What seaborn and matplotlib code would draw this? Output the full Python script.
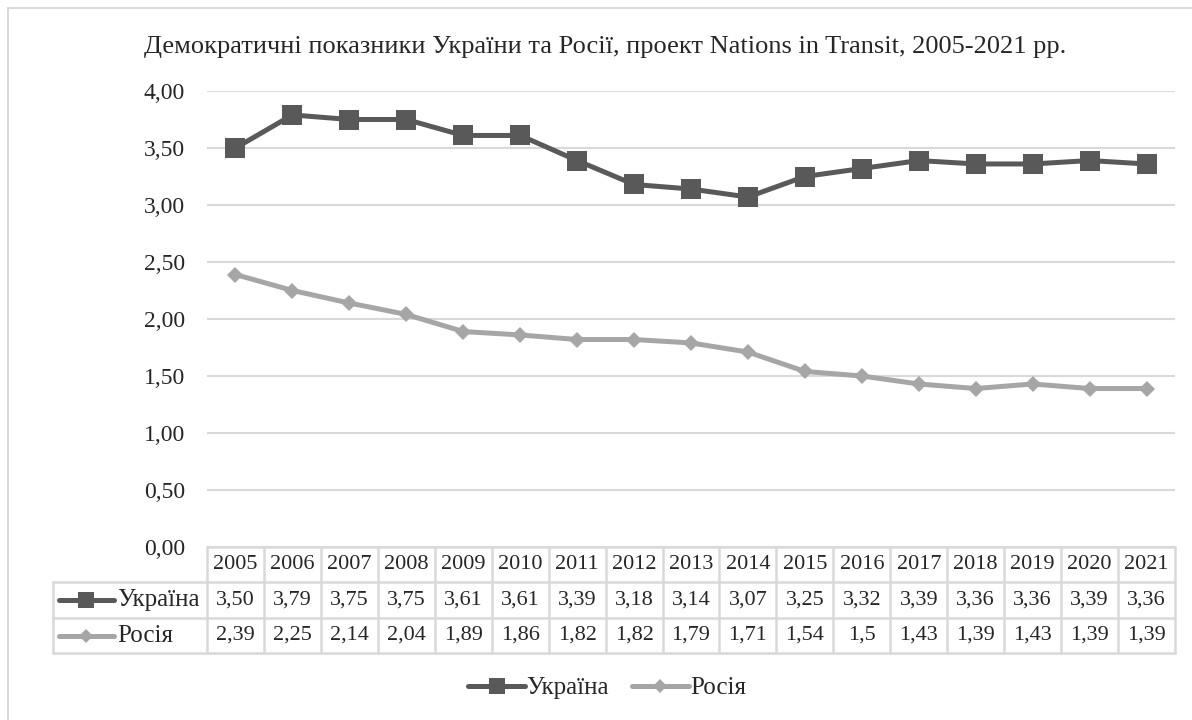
import matplotlib
matplotlib.use("Agg")
import matplotlib.pyplot as plt
import seaborn as sns
import pandas as pd
from matplotlib.lines import Line2D
from matplotlib.patches import Rectangle

years = [2005, 2006, 2007, 2008, 2009, 2010, 2011, 2012, 2013, 2014,
         2015, 2016, 2017, 2018, 2019, 2020, 2021]
ukraine = [3.50, 3.79, 3.75, 3.75, 3.61, 3.61, 3.39, 3.18, 3.14, 3.07,
           3.25, 3.32, 3.39, 3.36, 3.36, 3.39, 3.36]
russia = [2.39, 2.25, 2.14, 2.04, 1.89, 1.86, 1.82, 1.82, 1.79, 1.71,
          1.54, 1.50, 1.43, 1.39, 1.43, 1.39, 1.39]
ukraine_txt = ["3,50", "3,79", "3,75", "3,75", "3,61", "3,61", "3,39", "3,18", "3,14",
               "3,07", "3,25", "3,32", "3,39", "3,36", "3,36", "3,39", "3,36"]
russia_txt = ["2,39", "2,25", "2,14", "2,04", "1,89", "1,86", "1,82", "1,82", "1,79",
              "1,71", "1,54", "1,5", "1,43", "1,39", "1,43", "1,39", "1,39"]
series_names = ["Україна", "Росія"]
title = "Демократичні показники України та Росії, проект Nations in Transit, 2005-2021 рр."

sns.set_style("white")
plt.rcParams['font.family'] = ['Liberation Serif', 'DejaVu Serif']

c_ua = "#595959"
c_ru = "#a6a6a6"
grid_c = "#d9d9d9"

W, H = 1192, 720
fig = plt.figure(figsize=(W / 100, H / 100), dpi=100)

# outer chart border (cut off at right/bottom like the original)
fig.patches.append(Rectangle((8 / W, -0.1), 1.2, 1 - 8 / H + 0.1, transform=fig.transFigure,
                             fill=False, edgecolor=grid_c, linewidth=1.4))

ax_l, ax_r, ax_t, ax_b = 207, 1175, 91, 547
ax = fig.add_axes([ax_l / W, 1 - ax_b / H, (ax_r - ax_l) / W, (ax_b - ax_t) / H])

df = pd.DataFrame({"idx": list(range(len(years))) * 2,
                   "value": ukraine + russia,
                   "country": [series_names[0]] * len(years) + [series_names[1]] * len(years)})

sns.lineplot(data=df[df.country == series_names[0]], x="idx", y="value", ax=ax,
             color=c_ua, linewidth=3.6, marker="s", markersize=14, markeredgewidth=0,
             legend=False)
sns.lineplot(data=df[df.country == series_names[1]], x="idx", y="value", ax=ax,
             color=c_ru, linewidth=3.6, marker="D", markersize=8, markeredgewidth=0,
             legend=False)

ax.set_xlim(-0.5, len(years) - 0.5)
ax.set_ylim(0, 4)
ax.set_yticks([0, 0.5, 1, 1.5, 2, 2.5, 3, 3.5, 4])
ax.set_yticklabels([f"{v:.2f}".replace(".", ",") for v in ax.get_yticks()], fontsize=17)
ax.set_xticks([])
ax.set_xlabel("")
ax.set_ylabel("")
ax.tick_params(axis="y", length=0, pad=16)
for y in ax.get_yticks():
    ax.axhline(y, color=grid_c, linewidth=1.5, zorder=0)
for s in ax.spines.values():
    s.set_visible(False)

fig.text(605 / W, 1 - 47 / H, title, ha="center", va="center", fontsize=19)

# data table under the plot
def py(p):
    return 1 - p / H

rows_y = [547, 582, 618, 653]
tab_left = 53
n = len(years)
fig_x = lambda i: ax_l + (ax_r - ax_l) * (i + 0.5) / n

fig.add_artist(Line2D([ax_l / W, ax_r / W], [py(rows_y[0])] * 2, color=grid_c, lw=1.8))
for r in rows_y[1:]:
    fig.add_artist(Line2D([tab_left / W, ax_r / W], [py(r)] * 2, color=grid_c, lw=1.8))
for i in range(n + 1):
    x = ax_l + (ax_r - ax_l) * i / n
    fig.add_artist(Line2D([x / W] * 2, [py(rows_y[0]), py(rows_y[-1])], color=grid_c, lw=1.8))
fig.add_artist(Line2D([tab_left / W] * 2, [py(rows_y[1]), py(rows_y[-1])], color=grid_c, lw=1.8))

for i, yr in enumerate(years):
    fx = fig_x(i) / W
    fig.text(fx, py((rows_y[0] + rows_y[1]) / 2), str(yr), ha="center", va="center", fontsize=16)
    fig.text(fx, py((rows_y[1] + rows_y[2]) / 2), ukraine_txt[i], ha="center", va="center", fontsize=16)
    fig.text(fx, py((rows_y[2] + rows_y[3]) / 2), russia_txt[i], ha="center", va="center", fontsize=16)

for k, (name, col, mk, ms) in enumerate([(series_names[0], c_ua, "s", 11),
                                          (series_names[1], c_ru, "D", 7)]):
    yc = py((rows_y[k + 1] + rows_y[k + 2]) / 2)
    fig.add_artist(Line2D([59 / W, 114 / W], [yc, yc], color=col, lw=3.6, solid_capstyle="round"))
    fig.add_artist(Line2D([86 / W], [yc], color=col, marker=mk, markersize=ms, markeredgewidth=0))
    fig.text(117 / W, yc, name, ha="left", va="center", fontsize=18)

# legend at bottom
handles = [Line2D([], [], color=c_ua, lw=3.6, marker="s", markersize=11, markeredgewidth=0),
           Line2D([], [], color=c_ru, lw=3.6, marker="D", markersize=7, markeredgewidth=0)]
fig.legend(handles, series_names, loc="center", bbox_to_anchor=(607 / W, py(688)), ncol=2,
           frameon=False, fontsize=18, handlelength=2.3, handletextpad=0.05, columnspacing=0.9)

fig.savefig("out.png", dpi=100)
